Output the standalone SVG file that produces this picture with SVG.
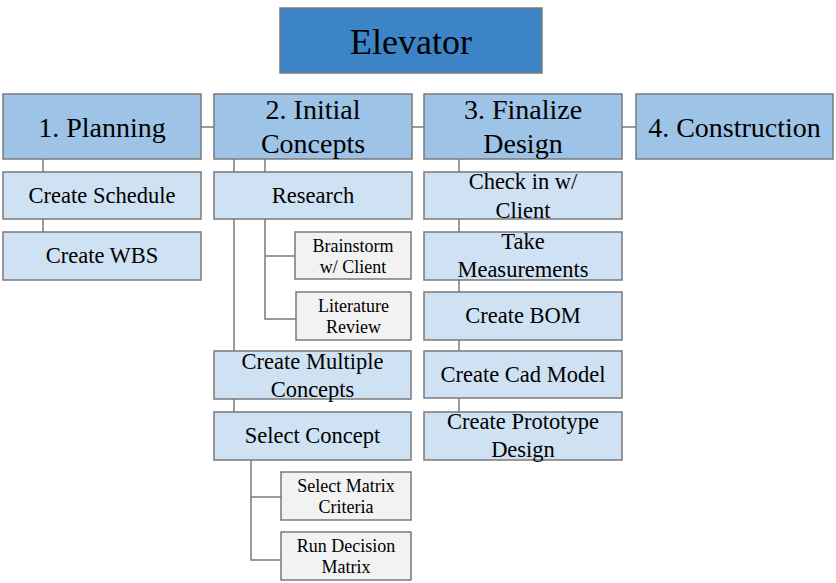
<svg xmlns="http://www.w3.org/2000/svg" width="836" height="583" viewBox="0 0 836 583">
<style>
rect{stroke:#7a7a7a;stroke-width:1.5}
.root{fill:#3d84c6}
.l1{fill:#9dc3e6}
.l2{fill:#cfe2f3}
.l3{fill:#f2f2f2}
text{fill:#000;text-anchor:middle}
.t0{font-size:36px}
.t1{font-size:28px}
.t2{font-size:22.5px}
.t3{font-size:18px}
.c line,.c polyline{stroke:#7a7a7a;stroke-width:1.5;fill:none}
</style>
<rect width="836" height="583" fill="#fff" style="stroke:none"/>
<g class="c" id="connectors">
<line x1="201" y1="127" x2="214" y2="127"/>
<line x1="412" y1="127" x2="424" y2="127"/>
<line x1="622" y1="127" x2="636" y2="127"/>
<line x1="43" y1="159" x2="43" y2="172"/>
<line x1="43" y1="219" x2="43" y2="232"/>
<line x1="265" y1="159" x2="265" y2="172"/>
<line x1="234" y1="159" x2="234" y2="351"/>
<line x1="234" y1="399" x2="234" y2="412"/>
<polyline points="265,219 265,319 296,319"/>
<line x1="265" y1="256" x2="295" y2="256"/>
<polyline points="251,460 251,560 281,560"/>
<line x1="251" y1="497" x2="281" y2="497"/>
<line x1="459" y1="159" x2="459" y2="172"/>
<line x1="459" y1="219" x2="459" y2="232"/>
<line x1="459" y1="280" x2="459" y2="292"/>
<line x1="459" y1="340" x2="459" y2="351"/>
<line x1="459" y1="398" x2="459" y2="412"/>
</g>
<g font-family="'Liberation Serif', 'DejaVu Serif', serif">
<g id="elevator"><rect class="root" x="280" y="8" width="262" height="65"/><text class="t0" x="411" y="54">Elevator</text></g>
<g id="planning"><rect class="l1" x="3" y="94" width="198" height="65"/><text class="t1" x="102" y="137">1. Planning</text></g>
<g id="initial"><rect class="l1" x="214" y="94" width="198" height="65"/><text class="t1" x="313" y="119">2. Initial</text><text class="t1" x="313" y="153">Concepts</text></g>
<g id="finalize"><rect class="l1" x="424" y="94" width="198" height="65"/><text class="t1" x="523" y="119">3. Finalize</text><text class="t1" x="523" y="153">Design</text></g>
<g id="construction"><rect class="l1" x="636" y="94" width="197" height="65"/><text class="t1" x="734.5" y="137">4. Construction</text></g>
<g id="schedule"><rect class="l2" x="3" y="172" width="198" height="47"/><text class="t2" x="102" y="203">Create Schedule</text></g>
<g id="wbs"><rect class="l2" x="3" y="232" width="198" height="48"/><text class="t2" x="102" y="263">Create WBS</text></g>
<g id="research"><rect class="l2" x="214" y="172" width="198" height="47"/><text class="t2" x="313" y="203">Research</text></g>
<g id="brainstorm"><rect class="l3" x="295" y="232" width="116" height="47"/><text class="t3" x="353" y="252">Brainstorm</text><text class="t3" x="353" y="273">w/ Client</text></g>
<g id="literature"><rect class="l3" x="296" y="292" width="115" height="48"/><text class="t3" x="353.5" y="312">Literature</text><text class="t3" x="353.5" y="333">Review</text></g>
<g id="multiple"><rect class="l2" x="214" y="351" width="197" height="48"/><text class="t2" x="312.5" y="369">Create Multiple</text><text class="t2" x="312.5" y="397">Concepts</text></g>
<g id="select"><rect class="l2" x="214" y="412" width="197" height="48"/><text class="t2" x="312.5" y="443">Select Concept</text></g>
<g id="matrix"><rect class="l3" x="281" y="472" width="130" height="48"/><text class="t3" x="346" y="492">Select Matrix</text><text class="t3" x="346" y="513">Criteria</text></g>
<g id="decision"><rect class="l3" x="281" y="532" width="130" height="48"/><text class="t3" x="346" y="552">Run Decision</text><text class="t3" x="346" y="573">Matrix</text></g>
<g id="checkin"><rect class="l2" x="424" y="172" width="198" height="47"/><text class="t2" x="523" y="189">Check in w/</text><text class="t2" x="523" y="218">Client</text></g>
<g id="measure"><rect class="l2" x="424" y="232" width="198" height="48"/><text class="t2" x="523" y="249">Take</text><text class="t2" x="523" y="277">Measurements</text></g>
<g id="bom"><rect class="l2" x="424" y="292" width="198" height="48"/><text class="t2" x="523" y="323">Create BOM</text></g>
<g id="cad"><rect class="l2" x="424" y="351" width="198" height="47"/><text class="t2" x="523" y="382">Create Cad Model</text></g>
<g id="prototype"><rect class="l2" x="424" y="412" width="198" height="48"/><text class="t2" x="523" y="429">Create Prototype</text><text class="t2" x="523" y="457">Design</text></g>
</g>
</svg>
